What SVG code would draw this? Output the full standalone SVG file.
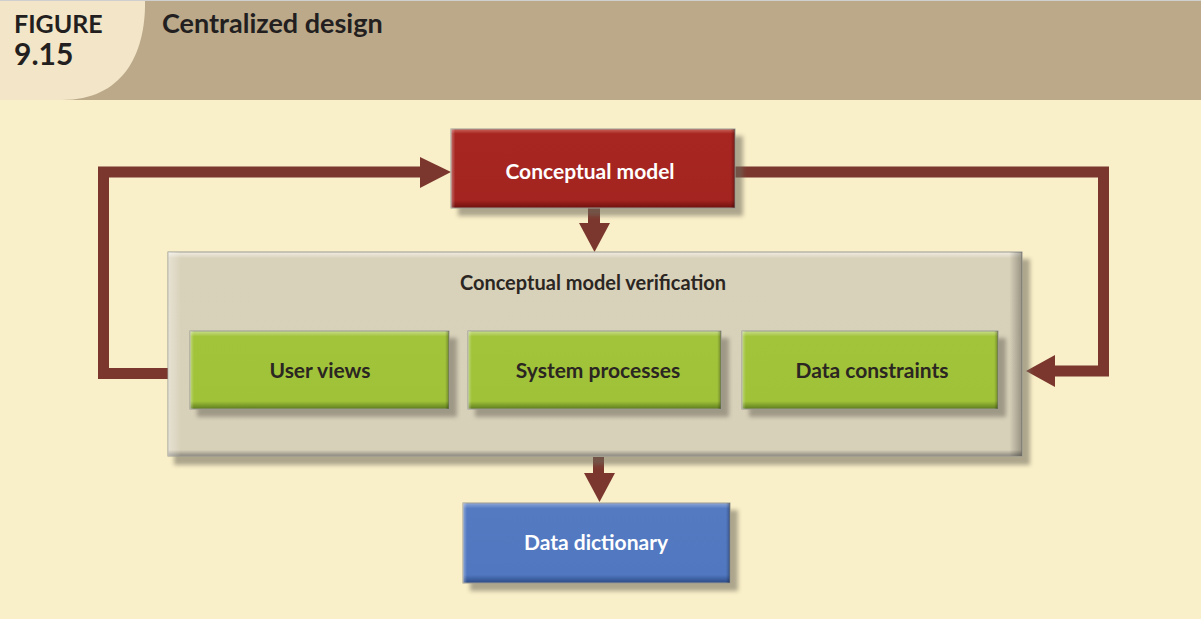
<svg xmlns="http://www.w3.org/2000/svg" width="1201" height="619" viewBox="0 0 1201 619">
  <defs>
    <style>
      .hdr { font-family: "Lato", "Open Sans", "Liberation Sans", sans-serif; font-weight: bold; fill: #231f20; }
      .lbl { font-family: "Lato", "Open Sans", "Liberation Sans", sans-serif; font-weight: bold; font-size: 21px; text-anchor: middle; }
      .light { fill: #ffffff; }
      .dark { fill: #2b2622; }
      .wire { fill: none; stroke: #7b372e; stroke-width: 11; stroke-linejoin: miter; }
      .head { fill: #7b372e; }
      .shadow { fill: #6f6a5c; opacity: 0.55; filter: url(#soft); }
      .edge { stroke: #9a9a92; stroke-width: 1; }
    </style>
    <filter id="soft" x="-10%" y="-10%" width="120%" height="130%">
      <feGaussianBlur stdDeviation="2.2"/>
    </filter>
    <linearGradient id="redFill" x1="0" y1="0" x2="0" y2="1">
      <stop offset="0" stop-color="#c9655b"/>
      <stop offset="0.06" stop-color="#a82621"/>
      <stop offset="0.9" stop-color="#a32420"/>
      <stop offset="1" stop-color="#6e100e"/>
    </linearGradient>
    <linearGradient id="greenFill" x1="0" y1="0" x2="0" y2="1">
      <stop offset="0" stop-color="#c9dd8a"/>
      <stop offset="0.07" stop-color="#a2c43b"/>
      <stop offset="0.9" stop-color="#9fc239"/>
      <stop offset="1" stop-color="#5d7a1e"/>
    </linearGradient>
    <linearGradient id="blueFill" x1="0" y1="0" x2="0" y2="1">
      <stop offset="0" stop-color="#8ea6d6"/>
      <stop offset="0.07" stop-color="#547ac2"/>
      <stop offset="0.9" stop-color="#5077bf"/>
      <stop offset="1" stop-color="#2c4a85"/>
    </linearGradient>
    <linearGradient id="greyFill" x1="0" y1="0" x2="0" y2="1">
      <stop offset="0" stop-color="#f1ede2"/>
      <stop offset="0.03" stop-color="#d9d2bb"/>
      <stop offset="0.97" stop-color="#d8d1ba"/>
      <stop offset="1" stop-color="#8c887c"/>
    </linearGradient>
    <linearGradient id="sideShade" x1="0" y1="0" x2="1" y2="0">
      <stop offset="0" stop-color="#ffffff" stop-opacity="0.35"/>
      <stop offset="0.015" stop-color="#ffffff" stop-opacity="0"/>
      <stop offset="0.985" stop-color="#000000" stop-opacity="0"/>
      <stop offset="1" stop-color="#000000" stop-opacity="0.3"/>
    </linearGradient>
  </defs>

  <!-- page background -->
  <rect x="0" y="0" width="1201" height="619" fill="#f9efc8"/>

  <!-- title band -->
  <g id="header">
    <rect x="0" y="0" width="1201" height="100" fill="#bba98a"/>
    <path d="M0,0 H145 C146,55 122,100 62,100 H0 Z" fill="#f3e6c8"/>
    <line x1="0" y1="0.5" x2="1201" y2="0.5" stroke="#cfcfcf" stroke-width="1"/>
    <text class="hdr" x="14" y="33" font-size="25">FIGURE</text>
    <text class="hdr" x="14" y="65" font-size="30">9.15</text>
    <text class="hdr" x="162" y="33" font-size="27">Centralized design</text>
  </g>

  <!-- connectors -->
  <g id="connectors">
    <!-- feedback from verification back to the conceptual model -->
    <polyline class="wire" points="168,373.5 103.5,373.5 103.5,172 421,172"/>
    <polygon class="head" points="420,157 451,172 420,188"/>
    <!-- conceptual model out to the verification step -->
    <polyline class="wire" points="735,172 1103.5,172 1103.5,371 1054,371"/>
    <polygon class="head" points="1055,355 1026,371 1055,387"/>
    <!-- conceptual model down into verification -->
    <rect class="head" x="588" y="208" width="12" height="16"/>
    <polygon class="head" points="579,223 610,223 594.5,252"/>
    <!-- verification down to data dictionary -->
    <rect class="head" x="593" y="457" width="11" height="17"/>
    <polygon class="head" points="584,473 615,473 599.5,502"/>
  </g>

  <!-- verification container -->
  <g id="verification">
    <rect class="shadow" x="174" y="259" width="856" height="206"/>
    <rect x="168" y="252" width="854" height="204" fill="url(#greyFill)" class="edge"/>
    <rect x="168" y="252" width="854" height="204" fill="url(#sideShade)"/>
    <text class="lbl dark" x="593" y="290" font-size="20" style="font-size:20px">Conceptual model verification</text>
  </g>

  <g id="conceptual-model">
    <rect class="shadow" x="458" y="136" width="285" height="80"/>
    <rect x="451" y="129" width="284" height="79" fill="url(#redFill)" class="edge"/>
    <rect x="451" y="129" width="284" height="79" fill="url(#sideShade)"/>
    <text class="lbl light" x="590" y="179">Conceptual model</text>
  </g>

  <g id="user-views">
    <rect class="shadow" x="197" y="338" width="260" height="79"/>
    <rect x="190" y="331" width="259" height="78" fill="url(#greenFill)" class="edge"/>
    <rect x="190" y="331" width="259" height="78" fill="url(#sideShade)"/>
    <text class="lbl dark" x="320" y="378">User views</text>
  </g>

  <g id="system-processes">
    <rect class="shadow" x="475" y="338" width="254" height="79"/>
    <rect x="468" y="331" width="253" height="78" fill="url(#greenFill)" class="edge"/>
    <rect x="468" y="331" width="253" height="78" fill="url(#sideShade)"/>
    <text class="lbl dark" x="598" y="378">System processes</text>
  </g>

  <g id="data-constraints">
    <rect class="shadow" x="749" y="338" width="257" height="79"/>
    <rect x="742" y="331" width="256" height="78" fill="url(#greenFill)" class="edge"/>
    <rect x="742" y="331" width="256" height="78" fill="url(#sideShade)"/>
    <text class="lbl dark" x="872" y="378">Data constraints</text>
  </g>

  <g id="data-dictionary">
    <rect class="shadow" x="470" y="510" width="268" height="81"/>
    <rect x="463" y="503" width="267" height="80" fill="url(#blueFill)" class="edge"/>
    <rect x="463" y="503" width="267" height="80" fill="url(#sideShade)"/>
    <text class="lbl light" x="596" y="550">Data dictionary</text>
  </g>
</svg>
